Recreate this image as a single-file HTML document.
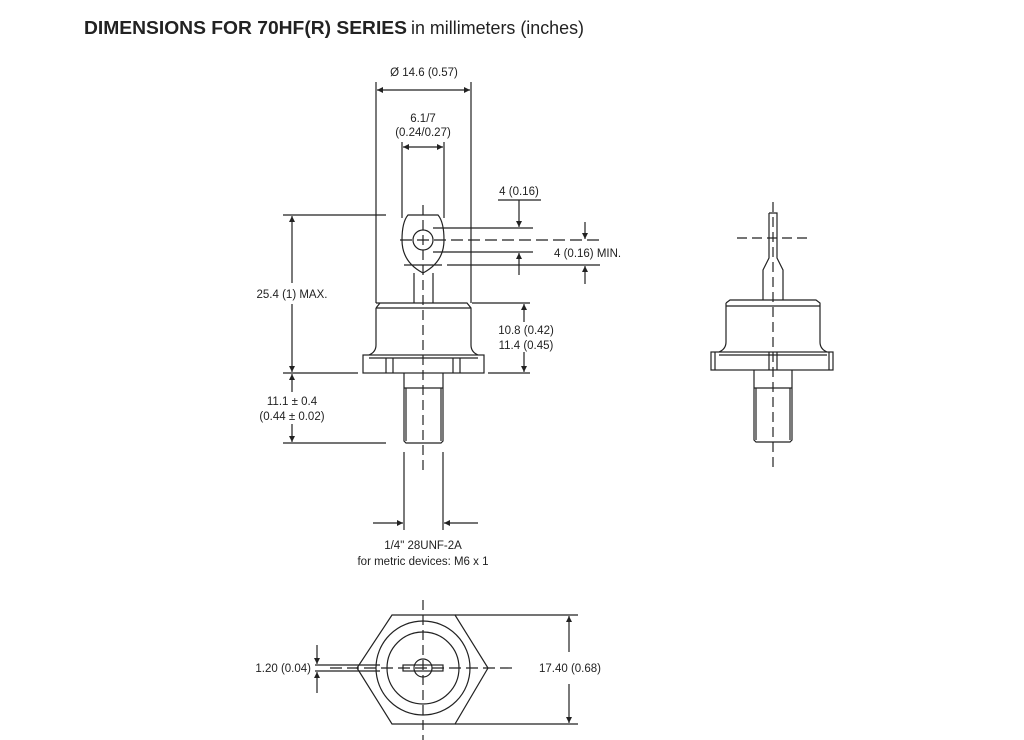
<!DOCTYPE html>
<html><head><meta charset="utf-8"><style>
html,body{margin:0;padding:0;background:#fff;}
svg{display:block;}
text{font-family:"Liberation Sans",Arial,sans-serif;fill:#222;}
</style></head><body>
<svg width="1024" height="740" viewBox="0 0 1024 740" xmlns="http://www.w3.org/2000/svg">
<defs>
<marker id="a" viewBox="0 0 10 10" refX="10" refY="5" markerWidth="9" markerHeight="6" orient="auto-start-reverse" markerUnits="userSpaceOnUse"><path d="M0,0 L10,5 L0,10 z" fill="#222"/></marker>
</defs>
<text x="84" y="34" font-size="18.5" font-weight="bold" textLength="323" lengthAdjust="spacingAndGlyphs">DIMENSIONS FOR 70HF(R) SERIES</text>
<text x="411" y="34" font-size="18" textLength="173" lengthAdjust="spacingAndGlyphs">in millimeters (inches)</text>

<g fill="none" stroke="#222" stroke-width="1.2">
<!-- Front view -->
<line x1="376" y1="82" x2="376" y2="303"/><line x1="471" y1="82" x2="471" y2="303"/>
<line x1="377" y1="90" x2="470" y2="90" marker-start="url(#a)" marker-end="url(#a)"/>
<line x1="402" y1="142" x2="402" y2="218"/><line x1="444" y1="142" x2="444" y2="218"/>
<line x1="403" y1="147" x2="443" y2="147" marker-start="url(#a)" marker-end="url(#a)"/>
<!-- tab -->
<path d="M408,215 L438,215 Q444,222 444,240 Q444,262 423,273 Q402,262 402,240 Q402,222 408,215 Z"/>
<line x1="404" y1="265" x2="442" y2="265"/>
<circle cx="423" cy="240" r="10"/>
<path d="M414,273 L414,303 M433,273 L433,303"/>
<!-- body -->
<path d="M376,303 L380,303 L467,303 L471,308 L471,345 Q471,352 478,355 M376,308 L380,303 M376,308 L376,345 Q376,352 369,355 M376,308 L471,308"/>
<rect x="363" y="355" width="121" height="18"/>
<line x1="369" y1="358" x2="478" y2="358"/>
<path d="M386,358 L386,373 M393,358 L393,373 M453,358 L453,373 M460,358 L460,373"/>
<!-- stud -->
<path d="M404,373 L404,441 L406,443 L441,443 L443,441 L443,373 M404,388 L443,388 M406,388 L406,441 M441,388 L441,441"/>
<!-- center lines -->
<line x1="423" y1="205" x2="423" y2="472" stroke-dasharray="10,5"/>
<line x1="400" y1="240" x2="600" y2="240" stroke-dasharray="12,5"/>
<!-- 25.4 -->
<line x1="283" y1="215" x2="386" y2="215"/>
<line x1="283" y1="373" x2="358" y2="373"/>
<line x1="292" y1="216" x2="292" y2="283" marker-start="url(#a)"/>
<line x1="292" y1="304" x2="292" y2="372" marker-end="url(#a)"/>
<!-- 11.1 -->
<line x1="283" y1="443" x2="386" y2="443"/>
<line x1="292" y1="392" x2="292" y2="374" marker-end="url(#a)"/>
<line x1="292" y1="424" x2="292" y2="442" marker-end="url(#a)"/>
<!-- 4 (0.16) -->
<line x1="498" y1="200" x2="541" y2="200"/>
<line x1="519" y1="200" x2="519" y2="227" marker-end="url(#a)"/>
<line x1="433" y1="228" x2="533" y2="228"/>
<line x1="433" y1="252" x2="533" y2="252"/>
<line x1="519" y1="275" x2="519" y2="253" marker-end="url(#a)"/>
<line x1="447" y1="265" x2="600" y2="265"/>
<line x1="585" y1="222" x2="585" y2="239" marker-end="url(#a)"/>
<line x1="585" y1="284" x2="585" y2="266" marker-end="url(#a)"/>
<!-- 10.8 -->
<line x1="472" y1="303" x2="530" y2="303"/>
<line x1="488" y1="373" x2="530" y2="373"/>
<line x1="524" y1="322" x2="524" y2="304" marker-end="url(#a)"/>
<line x1="524" y1="352" x2="524" y2="372" marker-end="url(#a)"/>
<!-- thread -->
<line x1="404" y1="452" x2="404" y2="530"/><line x1="443" y1="452" x2="443" y2="530"/>
<line x1="373" y1="523" x2="403" y2="523" marker-end="url(#a)"/>
<line x1="478" y1="523" x2="444" y2="523" marker-end="url(#a)"/>

<!-- Bottom view -->
<polygon points="392,615 455,615 488,668 455,724 392,724 357,668"/>
<circle cx="423" cy="668" r="47"/>
<circle cx="423" cy="668" r="36"/>
<circle cx="423" cy="668" r="9"/>
<rect x="403" y="665" width="40" height="6"/>
<line x1="330" y1="668" x2="515" y2="668" stroke-dasharray="12,5"/>
<line x1="423" y1="600" x2="423" y2="740" stroke-dasharray="10,5"/>
<line x1="455" y1="615" x2="578" y2="615"/>
<line x1="455" y1="724" x2="578" y2="724"/>
<line x1="569" y1="652" x2="569" y2="616" marker-end="url(#a)"/>
<line x1="569" y1="684" x2="569" y2="723" marker-end="url(#a)"/>
<line x1="315" y1="665" x2="380" y2="665"/>
<line x1="315" y1="671" x2="380" y2="671"/>
<line x1="317" y1="645" x2="317" y2="664" marker-end="url(#a)"/>
<line x1="317" y1="693" x2="317" y2="672" marker-end="url(#a)"/>

<!-- Side view -->
<path d="M769,213 L777,213 L777,258 L783,270 L783,300 M769,213 L769,258 L763,270 L763,300"/>
<path d="M726,303 L730,300 L816,300 L820,303 L820,342 Q820,349 827,352 M726,303 L726,342 Q726,349 719,352 M726,306 L820,306"/>
<rect x="711" y="352" width="122" height="18"/>
<line x1="719" y1="355" x2="827" y2="355"/>
<path d="M715,352 L715,370 M829,352 L829,370 M769,352 L769,370 M777,352 L777,370"/>
<path d="M754,370 L754,440 L756,442 L790,442 L792,440 L792,370 M754,388 L792,388 M756,388 L756,440 M790,388 L790,440"/>
<line x1="773" y1="202" x2="773" y2="470" stroke-dasharray="10,5"/>
<line x1="737" y1="238" x2="810" y2="238" stroke-dasharray="10,5"/>
</g>

<g font-size="11.5">
<text x="424" y="76" text-anchor="middle">Ø 14.6 (0.57)</text>
<text x="423" y="122" text-anchor="middle">6.1/7</text>
<text x="423" y="136" text-anchor="middle">(0.24/0.27)</text>
<text x="519" y="195" text-anchor="middle">4 (0.16)</text>
<text x="554" y="257">4 (0.16) MIN.</text>
<text x="292" y="298" text-anchor="middle">25.4 (1) MAX.</text>
<text x="526" y="334" text-anchor="middle">10.8 (0.42)</text>
<text x="526" y="349" text-anchor="middle">11.4 (0.45)</text>
<text x="292" y="405" text-anchor="middle">11.1 ± 0.4</text>
<text x="292" y="420" text-anchor="middle">(0.44 ± 0.02)</text>
<text x="423" y="549" text-anchor="middle">1/4" 28UNF-2A</text>
<text x="423" y="565" text-anchor="middle">for metric devices: M6 x 1</text>
<text x="311" y="672" text-anchor="end">1.20 (0.04)</text>
<text x="570" y="672" text-anchor="middle">17.40 (0.68)</text>
</g>
</svg>
</body></html>
